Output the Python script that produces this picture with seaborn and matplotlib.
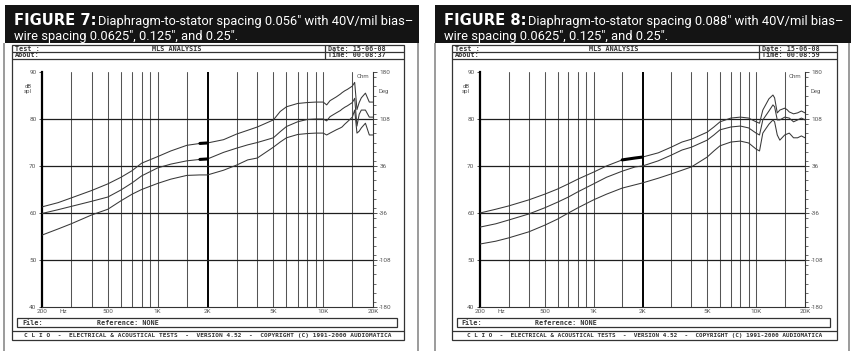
import numpy as np
import pandas as pd
import matplotlib
matplotlib.use("Agg")
import matplotlib.pyplot as plt
from matplotlib.patches import Rectangle
from matplotlib.ticker import MultipleLocator, NullLocator
import seaborn as sns

W, H = 851, 351

# frequency points (Hz)
freq = [200, 250, 300, 400, 500, 600, 700, 800, 1000, 1200, 1500, 1800, 2000,
        2500, 3000, 3500, 4000, 5000, 5500, 6000, 7000, 8000, 9000, 10000,
        10500, 11000, 12000, 12700, 13000, 13500, 14000, 15000, 15500, 16000,
        16500, 17000, 18000, 19000, 20000]

# Figure 7 (0.056" spacing), dB SPL
fig7_upper = [61.3, 62.2, 63.2, 64.8, 66.2, 67.6, 69.0, 70.6, 72.0, 73.2, 74.4, 74.8, 74.9,
              75.6, 76.8, 77.6, 78.3, 79.8, 81.6, 82.6, 83.3, 83.5, 83.6, 83.6,
              83.0, 83.9, 84.7, 85.3, 85.6, 86.0, 86.3, 87.0, 87.8, 82.0,
              83.5, 84.5, 85.5, 83.6, 83.6]
fig7_middle = [59.9, 60.7, 61.4, 62.5, 63.4, 64.9, 66.4, 67.9, 69.6, 70.4, 71.1, 71.4, 71.5,
               72.9, 73.8, 74.5, 75.0, 76.0, 77.3, 78.4, 79.4, 79.9, 80.0, 80.0,
               79.6, 80.5, 81.3, 81.8, 82.1, 82.5, 82.8, 83.5, 84.4, 78.5,
               81.0, 81.9, 81.9, 80.4, 80.4]
fig7_lower = [55.3, 56.6, 57.7, 59.6, 60.8, 62.6, 64.0, 65.0, 66.3, 67.2, 68.0, 68.1, 68.1,
              69.1, 70.2, 71.3, 71.7, 74.0, 75.1, 76.0, 76.7, 76.9, 77.0, 77.0,
              76.6, 77.0, 77.7, 78.1, 78.3, 78.9, 79.4, 80.4, 81.9, 77.0,
              77.4, 78.1, 79.1, 76.6, 76.6]

# Figure 8 (0.088" spacing), dB SPL
fig8_upper = [60.0, 60.8, 61.5, 62.8, 64.0, 65.1, 66.2, 67.2, 68.7, 70.0, 71.3, 71.7, 71.9,
              72.8, 74.0, 75.1, 75.7, 77.2, 78.3, 79.4, 80.2, 80.4, 80.2, 79.4,
              79.1, 81.9, 84.3, 85.1, 84.5, 81.3, 81.9, 82.3, 82.0, 81.5,
              81.3, 81.1, 81.3, 81.7, 81.3]
fig8_middle = [57.0, 57.7, 58.5, 59.8, 61.1, 62.3, 63.4, 64.5, 66.2, 67.6, 68.9, 69.8, 70.0,
               71.1, 72.3, 73.4, 74.0, 75.5, 76.6, 77.7, 78.3, 78.5, 78.1, 77.0,
               76.6, 79.8, 81.7, 83.0, 82.6, 79.8, 79.8, 80.4, 80.3, 80.2,
               79.8, 79.4, 79.8, 80.2, 79.8]
fig8_lower = [53.4, 54.0, 54.7, 56.0, 57.4, 58.7, 60.0, 61.1, 62.8, 64.0, 65.3, 66.0, 66.4,
              67.4, 68.3, 69.1, 69.8, 71.9, 73.2, 74.3, 75.1, 75.3, 74.9, 73.6,
              73.2, 77.0, 78.9, 79.8, 79.4, 76.6, 75.5, 76.6, 76.8, 77.0,
              76.5, 76.0, 76.0, 76.4, 76.0]

grid_freqs = [300, 400, 500, 600, 700, 800, 900, 1000, 1500, 2000, 3000, 4000,
              5000, 6000, 7000, 8000, 9000, 10000, 15000]
label_freqs = [200, 500, 1000, 2000, 5000, 10000, 20000]
label_names = ["200", "500", "1K", "2K", "5K", "10K", "20K"]
spl_ticks = [40, 50, 60, 70, 80, 90]
spl_grid = [50, 60, 70, 80]
deg_ticks = [-180, -108, -36, 36, 108, 180]
curve_names = ["upper", "middle", "lower"]

footer = "C L I O  -  ELECTRICAL & ACOUSTICAL TESTS  -  VERSION 4.52  -  COPYRIGHT (C) 1991-2000 AUDIOMATICA"

NARROW = ["Liberation Sans Narrow", "Roboto", "DejaVu Sans"]
MONO = ["DejaVu Sans Mono"]

sns.set_style("white")
plt.rcParams["font.family"] = ["DejaVu Sans"]

fig = plt.figure(figsize=(W / 100, H / 100), dpi=100)
bg = fig.add_axes([0, 0, 1, 1], zorder=0)
bg.set_xlim(0, W)
bg.set_ylim(H, 0)
bg.axis("off")
renderer = fig.canvas.get_renderer()


def fit(t, width):
    w = t.get_window_extent(renderer).width
    t.set_fontsize(t.get_fontsize() * width / w)
    return t.get_fontsize()


def line(xs, ys, color="#333", lw=0.9):
    bg.plot(xs, ys, color=color, lw=lw, solid_capstyle="butt")


def box(x0, y0, x1, y1, color="#333", lw=0.9):
    bg.add_patch(Rectangle((x0, y0), x1 - x0, y1 - y0, fill=False, ec=color, lw=lw))


panels = [
    dict(num="7", gap="0.056″", time="00:08:37", head=(5, 419), frame=(4, 418),
         box=(12, 404), sep=325, plot=(42, 373),
         curves=[fig7_upper, fig7_middle, fig7_lower], marks=["upper", "middle"], mark_from=1800),
    dict(num="8", gap="0.088″", time="00:08:59", head=(435, 851), frame=(435, 849),
         box=(452, 837), sep=759, plot=(480, 805),
         curves=[fig8_upper, fig8_middle, fig8_lower], marks=["upper"], mark_from=1500),
]

for p in panels:
    # black caption block
    h0, h1 = p["head"]
    bg.add_patch(Rectangle((h0, 5), h1 - h0, 38, color="#141414", lw=0))
    t = bg.text(h0 + 9, 25, f"FIGURE {p['num']}:", color="white", fontweight="heavy",
                va="baseline", fontsize=12)
    fit(t, 82)
    t1 = bg.text(h0 + 93, 25, f"Diaphragm-to-stator spacing {p['gap']} with 40V/mil bias–",
                 color="white", family=NARROW, va="baseline", fontsize=12)
    size = fit(t1, 313)
    bg.text(h0 + 9, 40, "wire spacing 0.0625″, 0.125″, and 0.25″.", color="white",
            family=NARROW, va="baseline", fontsize=size)

    # page frame
    f0, f1 = p["frame"]
    line([f0, f0], [43, H], color="#8a8a8a", lw=1.2)
    line([f1, f1], [43, H], color="#8a8a8a", lw=1.2)

    # CLIO window
    b0, b1 = p["box"]
    sep = p["sep"]
    s = (b1 - b0) / 392
    box(b0, 45, b1, 340)
    line([b0, b1], [52, 52])
    line([b0, b1], [58.5, 58.5])
    line([sep, sep], [45, 58.5])
    kw = dict(family=MONO, fontweight="bold", va="center", fontsize=4.9, color="#333")
    bg.text(sep + 3, 48.6, "Date: 15-06-08", **kw)
    bg.text(sep + 3, 55.3, f"Time: {p['time']}", **kw)
    bg.text(b0 + 3, 48.6, "Test :", **kw)
    bg.text(b0 + 3, 55.3, "About:", **kw)
    bg.text(b0 + 165 * s, 48.6, "MLS ANALYSIS", ha="center", **kw)
    box(b0 + 5 * s, 318, b1 - 7 * s, 327)
    bg.text(b0 + 10 * s, 322.6, "File:", **kw)
    bg.text(b0 + 85 * s, 322.6, "Reference: NONE", **kw)
    line([b0, b1], [330.5, 330.5])
    tf = bg.text((b0 + b1) / 2, 335.4, footer, ha="center", va="center", family=MONO,
                 fontweight="bold", fontsize=5, color="#333")
    fit(tf, 367 * s)

    # plot area
    p0, p1 = p["plot"]
    ax = fig.add_axes([p0 / W, 1 - 307 / H, (p1 - p0) / W, (307 - 72) / H], zorder=2)
    ax.set_facecolor("none")
    ax.set_xscale("log")
    for f in grid_freqs:
        if f == 2000:
            ax.axvline(f, color="#000", lw=1.4, zorder=1)
        else:
            ax.axvline(f, color="#555", lw=0.75, zorder=1)
    for v in spl_grid:
        ax.axhline(v, color="#1e1e1e", lw=0.9, zorder=1)

    df = pd.DataFrame({
        "freq": freq * 3,
        "spl": sum(p["curves"], []),
        "curve": np.repeat(curve_names, len(freq)),
    })
    sns.lineplot(data=df, x="freq", y="spl", hue="curve", palette=["#383838"] * 3,
                 legend=False, lw=0.75, estimator=None, sort=False, ax=ax, zorder=3)
    mk = df[df["curve"].isin(p["marks"]) & (df["freq"] >= p["mark_from"]) & (df["freq"] <= 2000)]
    sns.lineplot(data=mk, x="freq", y="spl", hue="curve", palette=["#000"] * len(p["marks"]),
                 legend=False, lw=2.2, estimator=None, sort=False, ax=ax, zorder=4)

    ax.set_xlim(200, 20000)
    ax.set_ylim(40, 90)
    ax.set_xticks(label_freqs, label_names)
    ax.xaxis.set_minor_locator(NullLocator())
    ax.set_yticks(spl_ticks, [str(v) for v in spl_ticks])
    ax.tick_params(axis="x", length=0, pad=1.5, labelsize=4.6, labelcolor="#555")
    ax.tick_params(axis="y", length=2, width=0.6, pad=2, labelsize=4.6,
                   labelcolor="#555", color="#333")
    for lab in ax.get_xticklabels() + ax.get_yticklabels():
        lab.set_family(NARROW)
    ax.set_xlabel("")
    ax.set_ylabel("")
    ax.spines["left"].set_color("#000")
    ax.spines["left"].set_linewidth(1.6)
    ax.spines["bottom"].set_color("#333")
    ax.spines["bottom"].set_linewidth(0.8)
    ax.spines["top"].set_visible(False)
    ax.spines["right"].set_visible(False)
    ax.text(270, -0.009, "Hz", transform=ax.get_xaxis_transform(), ha="center", va="top",
            fontsize=4.6, color="#555", family=NARROW)

    ax2 = ax.twinx()
    ax2.set_ylim(-180, 180)
    ax2.set_yticks(deg_ticks, [str(v) for v in deg_ticks])
    ax2.yaxis.set_minor_locator(MultipleLocator(14.4))
    ax2.tick_params(axis="y", which="major", length=3, width=0.6, pad=1.5,
                    labelsize=4.6, labelcolor="#555", color="#333")
    ax2.tick_params(axis="y", which="minor", length=1.8, width=0.5, color="#333")
    for lab in ax2.get_yticklabels():
        lab.set_family(NARROW)
    for side in ["left", "top", "bottom"]:
        ax2.spines[side].set_visible(False)
    ax2.spines["right"].set_color("#333")
    ax2.spines["right"].set_linewidth(0.8)

    # unit labels
    bg.text(p0 - 14, 86.5, "dB", ha="center", va="center", fontsize=4.3, color="#555", family=NARROW)
    bg.text(p0 - 14, 92, "spl", ha="center", va="center", fontsize=4.3, color="#555", family=NARROW)
    bg.text(p1 + 11, 92, "Deg", ha="center", va="center", fontsize=4.3, color="#555", family=NARROW)
    bg.text(p1 - 10, 76, "Ohm", ha="center", va="center", fontsize=4.3, color="#555", family=NARROW)

fig.savefig("out.png", dpi=100)
